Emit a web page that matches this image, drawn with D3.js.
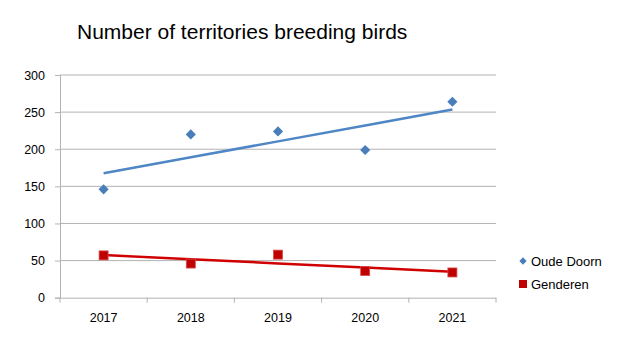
<!DOCTYPE html>
<html>
<head>
<meta charset="utf-8">
<script src="https://cdn.jsdelivr.net/npm/d3@7"></script>
<style>
  body { margin: 0; background: #fff; }
  text { font-family: "Liberation Sans", Arial, sans-serif; }
</style>
</head>
<body>
<svg id="chart"></svg>
<script>
var years = ["2017", "2018", "2019", "2020", "2021"];
var oudeDoorn = [146, 220, 224, 199, 264];
var genderen = [57, 46, 58, 36, 34];
var yTicks = [0, 50, 100, 150, 200, 250, 300];

var width = 624, height = 351;
var svg = d3.select("#chart").attr("width", width).attr("height", height);

var x = d3.scaleBand().domain(years).range([60, 496]);
var y = d3.scaleLinear().domain([0, 300]).range([297.7, 75]);

// title
svg.append("text")
    .attr("x", 77).attr("y", 39)
    .attr("font-size", 21)
    .attr("fill", "#000")
    .text("Number of territories breeding birds");

// gridlines
svg.append("g").selectAll("line")
    .data(yTicks.slice(1))
    .enter().append("line")
    .attr("x1", 60).attr("x2", 496)
    .attr("y1", d => y(d)).attr("y2", d => y(d))
    .attr("stroke", "#b3b3b3").attr("stroke-width", 1);

// y axis
var yAxis = svg.append("g")
    .attr("transform", "translate(60,0)")
    .call(d3.axisLeft(y).tickValues(yTicks).tickSize(5).tickPadding(10));
yAxis.select(".domain").attr("stroke", "#b3b3b3");
yAxis.selectAll(".tick line").attr("stroke", "#b3b3b3");
yAxis.selectAll("text").attr("font-size", 12.5).attr("fill", "#000")
    .style("font-family", "'Liberation Sans', Arial, sans-serif");

// x axis
var xAxis = svg.append("g")
    .attr("transform", "translate(0," + y(0) + ")")
    .call(d3.axisBottom(x).tickSize(0).tickPadding(15));
xAxis.select(".domain").attr("stroke", "#b3b3b3");
xAxis.selectAll("text").attr("font-size", 12.5).attr("fill", "#000")
    .style("font-family", "'Liberation Sans', Arial, sans-serif");
xAxis.selectAll(".sep")
    .data(d3.range(years.length + 1))
    .enter().append("line")
    .attr("x1", i => 60 + i * x.step()).attr("x2", i => 60 + i * x.step())
    .attr("y1", 0).attr("y2", 5)
    .attr("stroke", "#b3b3b3");

var cx = d => x(d) + x.bandwidth() / 2;

// linear trendline
function trend(vals) {
    var n = vals.length;
    var xs = d3.range(1, n + 1);
    var mx = d3.mean(xs), my = d3.mean(vals);
    var slope = d3.sum(xs, (xi, i) => (xi - mx) * (vals[i] - my)) / d3.sum(xs, xi => (xi - mx) * (xi - mx));
    return xs.map(xi => my + slope * (xi - mx));
}

var line = d3.line().x((d, i) => cx(years[i])).y(d => y(d));

svg.append("path")
    .attr("d", line(trend(oudeDoorn)))
    .attr("fill", "none").attr("stroke", "#4f86c6").attr("stroke-width", 2.5);
svg.append("path")
    .attr("d", line(trend(genderen)))
    .attr("fill", "none").attr("stroke", "#d00000").attr("stroke-width", 2.5);

// markers
svg.append("g").selectAll("path")
    .data(oudeDoorn)
    .enter().append("path")
    .attr("d", d3.symbol().type(d3.symbolDiamond2).size(66))
    .attr("transform", (d, i) => "translate(" + cx(years[i]) + "," + y(d) + ")")
    .attr("fill", "#4a7ebb");

svg.append("g").selectAll("rect")
    .data(genderen)
    .enter().append("rect")
    .attr("x", (d, i) => cx(years[i]) - 4.5)
    .attr("y", d => y(d) - 4.5)
    .attr("width", 9).attr("height", 9)
    .attr("fill", "#c00000").attr("stroke", "#d84a4a").attr("stroke-width", 0.8);

// legend
var legend = svg.append("g");
legend.append("path")
    .attr("d", d3.symbol().type(d3.symbolDiamond2).size(34))
    .attr("transform", "translate(523,261)")
    .attr("fill", "#4a7ebb");
legend.append("text")
    .attr("x", 531).attr("y", 265.5)
    .attr("font-size", 13).text("Oude Doorn");
legend.append("rect")
    .attr("x", 519).attr("y", 280).attr("width", 8).attr("height", 8)
    .attr("fill", "#c00000");
legend.append("text")
    .attr("x", 531).attr("y", 289)
    .attr("font-size", 13).text("Genderen");
</script>
</body>
</html>
